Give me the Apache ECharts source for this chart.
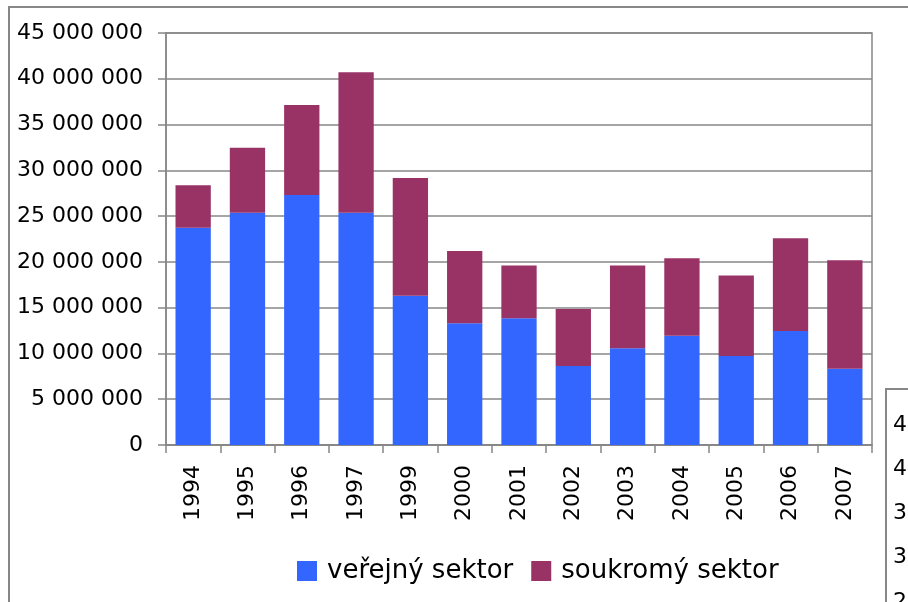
<!DOCTYPE html>
<html>
<head>
<meta charset="utf-8">
<script src="https://cdn.jsdelivr.net/npm/echarts@6/dist/echarts.min.js"></script>
<style>
  html, body { margin: 0; padding: 0; background: #fff; }
  #chart { width: 908px; height: 602px; }
</style>
</head>
<body>
<div id="chart"></div>
<script>
// roky (1998 v grafu chybí)
const years = ['1994', '1995', '1996', '1997', '1999', '2000', '2001', '2002', '2003', '2004', '2005', '2006', '2007'];
// veřejný sektor
const publicSector = [23730000, 25370000, 27300000, 25370000, 16300000, 13300000, 13840000, 8630000, 10560000, 11940000, 9720000, 12450000, 8330000];
// soukromý sektor
const privateSector = [4630000, 7100000, 9830000, 15330000, 12860000, 7900000, 5760000, 6220000, 9040000, 8460000, 8780000, 10120000, 11840000];
// osa y
const yMin = 0;
const yMax = 45000000;
const yStep = 5000000;
// viditelná část osy druhého (oříznutého) grafu vpravo dole
const y2Min = 25000000;

const GRAY = '#878787';
const FONT = 'DejaVu Sans';

// mezery jako oddělovač tisíců
const fmt = (v) => String(v).replace(/\B(?=(\d{3})+(?!\d))/g, ' ');

const chart = echarts.init(document.getElementById('chart'));

const yAxisBase = {
  type: 'value',
  max: yMax,
  interval: yStep,
  axisLine: { show: true, lineStyle: { color: GRAY, width: 1.5 } },
  axisTick: { show: true, length: 8, lineStyle: { color: GRAY, width: 1.5 } },
  axisLabel: { formatter: fmt, margin: 23, color: '#000', fontFamily: FONT, fontSize: 22 },
  splitLine: { lineStyle: { color: GRAY, width: 1.5 } },
};

chart.setOption({
  animation: false,
  backgroundColor: '#fff',
  grid: [
    {
      left: 166, right: 36, top: 33, bottom: 157,
      outerBoundsMode: 'none',
      show: true, borderColor: GRAY, borderWidth: 1.5,
    },
    // druhý graf, z něhož jsou vidět jen začátky popisků osy
    { left: 1042, width: 400, top: 425, bottom: 0, outerBoundsMode: 'none' },
  ],
  xAxis: [
    {
      gridIndex: 0,
      type: 'category',
      data: years,
      axisLine: { lineStyle: { color: GRAY, width: 1.5 } },
      axisTick: { show: true, length: 8, alignWithLabel: false, lineStyle: { color: GRAY, width: 1.5 } },
      axisLabel: { rotate: 90, margin: 20, color: '#000', fontFamily: FONT, fontSize: 22, interval: 0 },
    },
    { gridIndex: 1, type: 'category', data: years, show: false },
  ],
  yAxis: [
    Object.assign({ gridIndex: 0, min: yMin }, yAxisBase),
    Object.assign({ gridIndex: 1, min: y2Min }, yAxisBase),
  ],
  legend: {
    left: 292,
    top: 553,
    icon: 'rect',
    itemWidth: 20,
    itemHeight: 20,
    itemGap: 18,
    textStyle: { color: '#000', fontFamily: FONT, fontSize: 26, padding: [0, 0, 0, 5] },
    data: ['veřejný sektor', 'soukromý sektor'],
  },
  graphic: [
    {
      type: 'rect',
      shape: { x: 9, y: 7, width: 1000, height: 700 },
      style: { fill: 'none', stroke: GRAY, lineWidth: 2 },
      silent: true,
    },
    {
      type: 'rect',
      shape: { x: 886, y: 389, width: 200, height: 300 },
      style: { fill: 'none', stroke: GRAY, lineWidth: 2 },
      silent: true,
    },
  ],
  series: [
    {
      name: 'veřejný sektor',
      type: 'bar',
      stack: 'total',
      barCategoryGap: '35%',
      itemStyle: { color: '#3366FF' },
      data: publicSector,
    },
    {
      name: 'soukromý sektor',
      type: 'bar',
      stack: 'total',
      barCategoryGap: '35%',
      itemStyle: { color: '#993366' },
      data: privateSector,
    },
  ],
});
</script>
</body>
</html>
